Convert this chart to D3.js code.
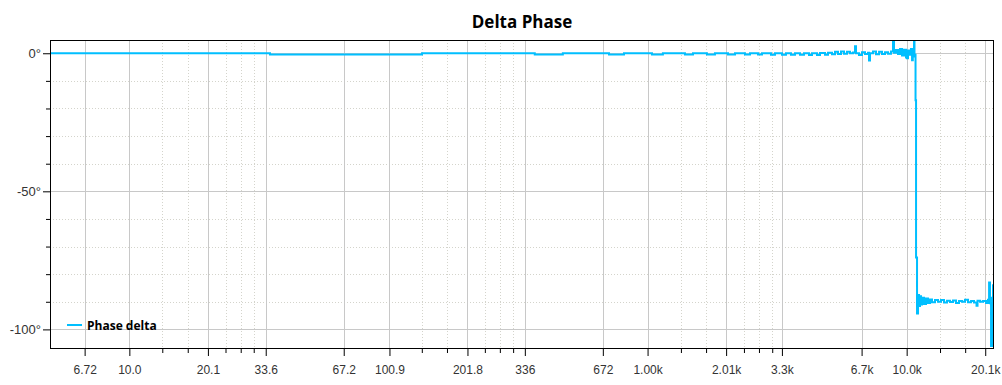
<!DOCTYPE html>
<html>
<head>
<meta charset="utf-8">
<script src="https://cdn.jsdelivr.net/npm/d3@7/dist/d3.min.js"></script>
<style>
  html, body { margin: 0; padding: 0; background: #fff; }
  svg { display: block; font-family: "Segoe UI", "Open Sans", sans-serif; }
</style>
</head>
<body>
<div id="chart"></div>
<script>
'use strict';

// ─────────────────────────────────────────────────────────────
// Delta Phase — phase difference vs. frequency (log axis)
// ─────────────────────────────────────────────────────────────

// Frequency points (Hz) and the phase delta at each (deg), stepped
const freqHz = [
  4.94, 34.9, 134.7, 367, 471, 710, 811, 1040, 1146, 1394, 1497, 1695, 1820,
  2044, 2175, 2377, 2485, 2669, 2765, 2995, 3103,
  3303, 3421, 3577, 3707, 3876, 4015, 4198, 4312, 4508, 4630, 4840, 4970,
  5150, 5290, 5433, 5579, 5730, 5885, 6044,
  6209, 6318, 6375, 6548, 6724, 6907, 7093, 7156, 7220, 7416, 7615, 7825,
  8034, 8249, 8472, 8700, 8857, 8937, 9097, 9260, 9426, 9596, 9768, 9943,
  10030, 10120, 10300, 10390, 10490, 10560, 10676, 10720, 10772, 10820, 10870, 10965,
  11063, 11163, 11261, 11362, 11464, 11668, 11877, 12090, 12307, 12528, 12866,
  13213, 13570, 13937, 14311, 14700, 15098, 15507, 15922, 16354, 16797, 17252,
  17719, 18195, 18605, 18770, 19193, 19715, 20247, 20606, 20797, 20974, 21165,
  21355, 21540, 21730
];
const phaseDeg = [
  0, -0.45, 0, -0.45, 0, -0.45, 0, -0.45, 0, -0.45, 0, -0.45, 0,
  -0.45, 0, -0.45, 0, -0.45, 0, -0.5, 0,
  -0.5, 0, -0.5, 0, -0.5, 0, -0.6, 0, -0.6, 0.1, -0.5, 0.2,
  -0.4, 0.5, -0.3, 0.6, -0.2, 0.5, 0,
  0.3, 2.5, 0, -0.6, 0.4, -0.3, 0.2, -2.6, 0, 0.6, -0.4, 0.5,
  -0.3, 0.4, -0.2, 0.6, 6, 0.2, 1.2, -0.3, 1.5, -0.8, 1.3, -1.5,
  -1.8, 1.0, -0.5, 1.5, -2.5, 0.8, 6, -1.2, -0.5, -17, -74, -94.2,
  -87.5, -91.5, -88, -91, -88.5, -90.8, -88.8, -90.4, -89.2, -90.2, -89.4,
  -90.0, -89.4, -90.3, -89.6, -90.1, -89.5, -90.4, -89.7, -90.0, -89.3, -90.2,
  -89.7, -90.3, -91.4, -89.6, -90.0, -89.7, -90.4, -89.3, -83, -90.5, -106,
  -88.5, -84, -90
];

// X axis ticks
const xMajorTicks = [6.72, 10.0, 20.1, 33.6, 67.2, 100.9, 201.8, 336, 672, 1000, 2010, 3300, 6700, 10000, 20100];
const xMajorLabels = ['6.72', '10.0', '20.1', '33.6', '67.2', '100.9', '201.8', '336', '672', '1.00k', '2.01k', '3.3k', '6.7k', '10.0k', '20.1k'];
const xMinorTicks = [13.4, 16.8, 23.5, 26.9, 30.2, 134.5, 168.2, 235.5, 269.1, 302.8,
  1345, 1682, 2355, 2691, 3028, 13450, 16820];

// Y axis ticks
const yMajorTicks = [0, -50, -100];
const yMinorTicks = [-10, -20, -30, -40, -60, -70, -80, -90];

const seriesName = 'Phase delta';
const titleText = 'Delta Phase';

// ─────────────────────────────────────────────────────────────

const width = 1002, height = 385;
const margin = { top: 40, right: 8, bottom: 36, left: 50 };
const lineColor = '#00bfff';

const svg = d3.select('#chart').append('svg')
  .attr('width', width)
  .attr('height', height);

const x = d3.scaleLog()
  .domain([4.94, 21730])
  .range([margin.left, width - margin.right]);

const y = d3.scaleLinear()
  .domain([-107.1, 4.8])
  .range([height - margin.bottom, margin.top]);

const plotW = width - margin.left - margin.right;
const plotH = height - margin.top - margin.bottom;

// Grid — minor dotted first, then major solid
const grid = svg.append('g');
grid.selectAll('line.vminor').data(xMinorTicks).join('line')
  .attr('x1', d => Math.round(x(d)) + 0.5).attr('x2', d => Math.round(x(d)) + 0.5)
  .attr('y1', margin.top).attr('y2', height - margin.bottom)
  .attr('stroke', '#d4d4cc').attr('stroke-dasharray', '1,2');
grid.selectAll('line.hminor').data(yMinorTicks).join('line')
  .attr('x1', margin.left).attr('x2', width - margin.right)
  .attr('y1', d => Math.round(y(d)) + 0.5).attr('y2', d => Math.round(y(d)) + 0.5)
  .attr('stroke', '#d4d4cc').attr('stroke-dasharray', '1,2');
grid.selectAll('line.vmajor').data(xMajorTicks).join('line')
  .attr('x1', d => Math.round(x(d)) + 0.5).attr('x2', d => Math.round(x(d)) + 0.5)
  .attr('y1', margin.top).attr('y2', height - margin.bottom)
  .attr('stroke', '#c8c8c8');
grid.selectAll('line.hmajor').data(yMajorTicks).join('line')
  .attr('x1', margin.left).attr('x2', width - margin.right)
  .attr('y1', d => Math.round(y(d)) + 0.5).attr('y2', d => Math.round(y(d)) + 0.5)
  .attr('stroke', '#c8c8c8');

// Data line (clipped to plot)
svg.append('clipPath').attr('id', 'plot-clip')
  .append('rect')
  .attr('x', margin.left).attr('y', margin.top)
  .attr('width', plotW).attr('height', plotH);

const points = freqHz.map((f, i) => [f, phaseDeg[i]]);
const line = d3.line()
  .x(d => x(d[0]))
  .y(d => y(d[1]))
  .curve(d3.curveStepAfter);

svg.append('path')
  .datum(points)
  .attr('clip-path', 'url(#plot-clip)')
  .attr('fill', 'none')
  .attr('stroke', lineColor)
  .attr('stroke-width', 2)
  .attr('d', line);

// Axes
const xAxis = svg.append('g')
  .attr('transform', `translate(0,${height - margin.bottom})`)
  .call(d3.axisBottom(x).tickValues(xMajorTicks)
    .tickFormat((d, i) => xMajorLabels[i]).tickSize(7).tickPadding(9));
svg.append('g')
  .attr('transform', `translate(0,${height - margin.bottom})`)
  .call(d3.axisBottom(x).tickValues(xMinorTicks).tickFormat('').tickSize(4))
  .call(g => g.select('.domain').remove());

const yAxis = svg.append('g')
  .attr('transform', `translate(${margin.left},0)`)
  .call(d3.axisLeft(y).tickValues(yMajorTicks)
    .tickFormat(d => d + '°').tickSize(7).tickPadding(2));
svg.append('g')
  .attr('transform', `translate(${margin.left},0)`)
  .call(d3.axisLeft(y).tickValues(yMinorTicks).tickFormat('').tickSize(4))
  .call(g => g.select('.domain').remove());

[xAxis, yAxis].forEach(g => {
  g.select('.domain').remove();
  g.selectAll('text').attr('fill', '#333').style('font-size', '12px');
});
yAxis.selectAll('text').style('font-size', '13px');

// Frame
svg.append('rect')
  .attr('x', margin.left + 0.5).attr('y', margin.top + 0.5)
  .attr('width', plotW - 1).attr('height', plotH - 1)
  .attr('fill', 'none').attr('stroke', '#000');

// Title
svg.append('text')
  .attr('x', margin.left + plotW / 2)
  .attr('y', 28)
  .attr('text-anchor', 'middle')
  .style('font-size', '17px')
  .style('font-weight', 'bold')
  .text(titleText);

// Legend
const legend = svg.append('g').attr('transform', 'translate(67,325)');
legend.append('line')
  .attr('x1', 0).attr('x2', 15)
  .attr('stroke', lineColor).attr('stroke-width', 2);
legend.append('text')
  .attr('x', 20).attr('y', 4.5)
  .style('font-size', '12px')
  .style('font-weight', 'bold')
  .text(seriesName);
</script>
</body>
</html>
